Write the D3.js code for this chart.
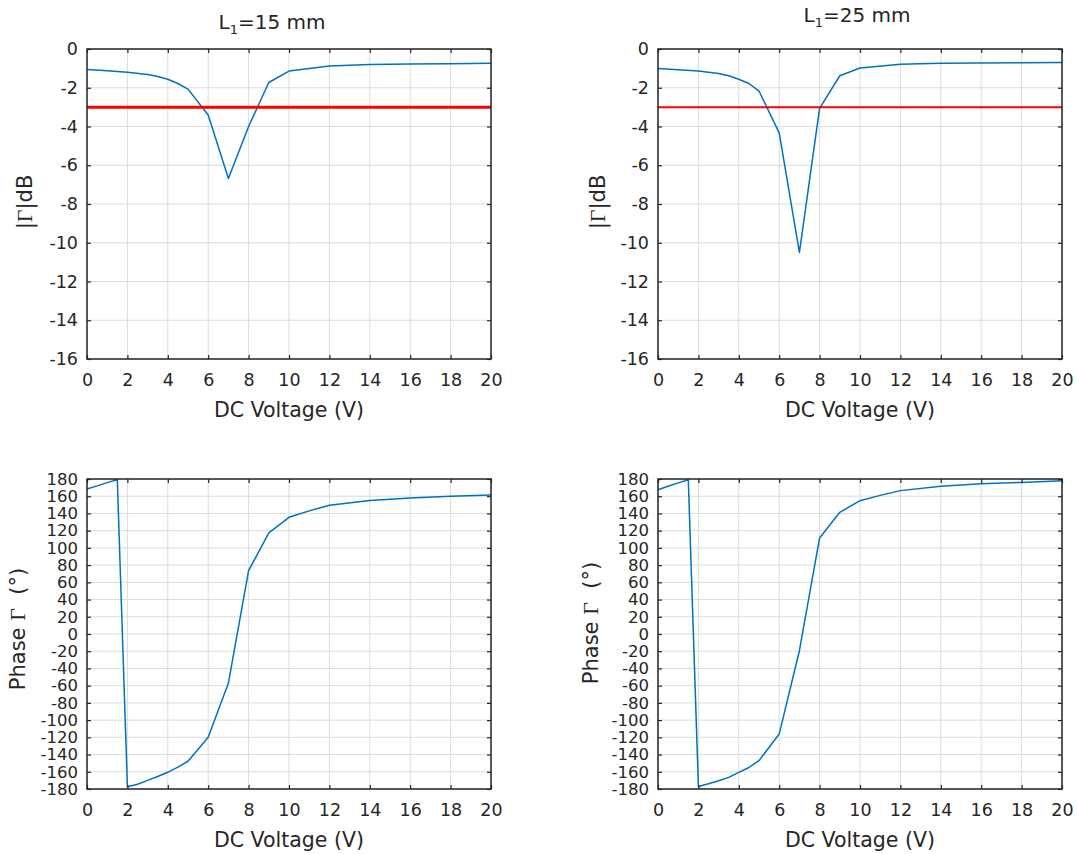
<!DOCTYPE html>
<html>
<head>
<meta charset="utf-8">
<script src="https://cdn.jsdelivr.net/npm/d3@7"></script>
<style>
  html, body { margin: 0; padding: 0; background: #fff; }
  svg { display: block; }
  text { font-family: "DejaVu Sans", "Liberation Sans", Arial, sans-serif; fill: #262626; white-space: pre; }
</style>
</head>
<body>
<svg id="chart" width="1077" height="854"></svg>
<script>
// ---------- data ----------
const voltageTicks = [0, 2, 4, 6, 8, 10, 12, 14, 16, 18, 20];
const magTicks = [0, -2, -4, -6, -8, -10, -12, -14, -16];
const phaseTicks = [-180, -160, -140, -120, -100, -80, -60, -40, -20, 0, 20, 40, 60, 80, 100, 120, 140, 160, 180];

const magVoltage = [0, 1, 2, 3, 3.5, 4, 4.5, 5, 6, 7, 8, 9, 10, 12, 14, 16, 18, 20];
const mag15 = [-1.06, -1.12, -1.2, -1.32, -1.42, -1.56, -1.78, -2.07, -3.41, -6.68, -4.0, -1.73, -1.14, -0.88, -0.8, -0.77, -0.76, -0.74];
const mag25 = [-1.01, -1.07, -1.14, -1.26, -1.38, -1.56, -1.78, -2.17, -4.33, -10.5, -3.06, -1.38, -0.98, -0.79, -0.74, -0.72, -0.71, -0.7];

const phaseVoltage = [0, 0.5, 1, 1.5, 2, 2.5, 3, 3.5, 4, 4.5, 5, 6, 7, 8, 9, 10, 11, 12, 14, 16, 18, 20];
const phase15 = [168.3, 172, 175.8, 179.5, -177.3, -174.5, -170, -165.5, -160.6, -154.5, -147.8, -119.8, -57, 73.5, 117.5, 135.5, 143, 149.5, 155, 158, 160, 161.5];
const phase25 = [167.6, 171.5, 175.5, 179.2, -177.1, -174, -170.5, -166.5, -160.7, -155, -147.1, -116.2, -19.4, 111.5, 141.3, 154.8, 161, 166.5, 171.5, 174.5, 176, 178];

const thresholdDb = -3;
const titles = ["15", "25"];

// ---------- layout ----------
const W = 404, H = 310;
const panels = [
  { x: 87,  y: 49,  kind: "mag",   vals: mag15,   title: titles[0], redW: 3, titleX: 272, titleY: 29, ylab: [25, 202] },
  { x: 658, y: 49,  kind: "mag",   vals: mag25,   title: titles[1], redW: 2, titleX: 857, titleY: 22, ylab: [598, 202] },
  { x: 87,  y: 479, kind: "phase", vals: phase15, ylab: [18, 629] },
  { x: 658, y: 479, kind: "phase", vals: phase25, ylab: [591, 623] }
];

const svg = d3.select("#chart");
const textColor = "#262626";
const gridColor = "#dcdcdc";
const blue = "#0072BD";
const sans = '"DejaVu Sans", "Liberation Sans", Arial, sans-serif';
const serif = '"Liberation Serif", "Times New Roman", serif';

panels.forEach(p => {
  const g = svg.append("g").attr("transform", `translate(${p.x},${p.y})`);
  const x = d3.scaleLinear().domain([0, 20]).range([0, W]);
  const isMag = p.kind === "mag";
  const y = isMag ? d3.scaleLinear().domain([-16, 0]).range([H, 0])
                  : d3.scaleLinear().domain([-180, 180]).range([H, 0]);
  const yTicks = isMag ? magTicks : phaseTicks;
  const xs = isMag ? magVoltage : phaseVoltage;

  // grid
  g.append("g").selectAll("line").data(voltageTicks).join("line")
    .attr("x1", d => x(d)).attr("x2", d => x(d)).attr("y1", 0).attr("y2", H)
    .attr("stroke", gridColor).attr("stroke-width", 1);
  g.append("g").selectAll("line").data(yTicks).join("line")
    .attr("x1", 0).attr("x2", W).attr("y1", d => y(d)).attr("y2", d => y(d))
    .attr("stroke", gridColor).attr("stroke-width", 1);

  // data line
  const line = d3.line().x((d, i) => x(xs[i])).y(d => y(d));
  g.append("path").datum(p.vals)
    .attr("d", line).attr("fill", "none")
    .attr("stroke", blue).attr("stroke-width", 1.5).attr("stroke-linejoin", "round");

  // threshold
  if (isMag) {
    g.append("line")
      .attr("x1", x(0)).attr("x2", x(20)).attr("y1", y(thresholdDb)).attr("y2", y(thresholdDb))
      .attr("stroke", "#ff0000").attr("stroke-width", p.redW);
  }

  // axes (inward ticks on all sides)
  const styleAxis = (sel, size) => {
    sel.select(".domain").remove();
    sel.selectAll(".tick line").attr("stroke", textColor).attr("stroke-width", 1.2);
    sel.selectAll(".tick text").attr("fill", textColor)
      .style("font-family", sans).style("font-size", size);
  };
  g.append("g").attr("transform", `translate(0,${H})`)
    .call(d3.axisBottom(x).tickValues(voltageTicks).tickSize(-4).tickPadding(15).tickFormat(d3.format("d")))
    .call(styleAxis, "17.5px");
  g.append("g")
    .call(d3.axisTop(x).tickValues(voltageTicks).tickSize(-4).tickFormat(""))
    .call(styleAxis, "17.5px");
  g.append("g")
    .call(d3.axisLeft(y).tickValues(yTicks).tickSize(-4).tickPadding(9).tickFormat(d3.format("d")))
    .call(styleAxis, isMag ? "17.5px" : "16.5px");
  g.append("g").attr("transform", `translate(${W},0)`)
    .call(d3.axisRight(y).tickValues(yTicks).tickSize(-4).tickFormat(""))
    .call(styleAxis, "17.5px");
  g.selectAll(".tick text").each(function() {
    const t = d3.select(this);
    t.text(t.text().replace("−", "-"));
  });

  // frame
  g.append("rect").attr("x", 0).attr("y", 0).attr("width", W).attr("height", H)
    .attr("fill", "none").attr("stroke", textColor).attr("stroke-width", 1.5);

  // x label
  svg.append("text")
    .attr("x", p.x + W / 2).attr("y", p.y + H + 58)
    .attr("text-anchor", "middle").style("font-size", "20.5px")
    .text("DC Voltage (V)");

  // y label
  const yl = svg.append("text")
    .attr("transform", `translate(${p.ylab[0]},${p.ylab[1]}) rotate(-90)`)
    .attr("text-anchor", "middle").attr("dy", "0.35em").style("font-size", "21px");
  if (isMag) {
    yl.append("tspan").text("|");
    yl.append("tspan").style("font-family", serif).style("font-size", "22px").text("Γ");
    yl.append("tspan").text("|dB");
  } else {
    yl.append("tspan").text("Phase ");
    yl.append("tspan").style("font-family", serif).style("font-size", "22px").text("Γ");
    yl.append("tspan").text("  (°)");
  }

  // title
  if (p.title) {
    const t = svg.append("text")
      .attr("x", p.titleX).attr("y", p.titleY)
      .attr("text-anchor", "middle").style("font-size", "20px");
    t.append("tspan").text("L");
    t.append("tspan").attr("dy", 5).style("font-size", "13px").text("1");
    t.append("tspan").attr("dy", -5).text(`=${p.title} mm`);
  }
});
</script>
</body>
</html>
